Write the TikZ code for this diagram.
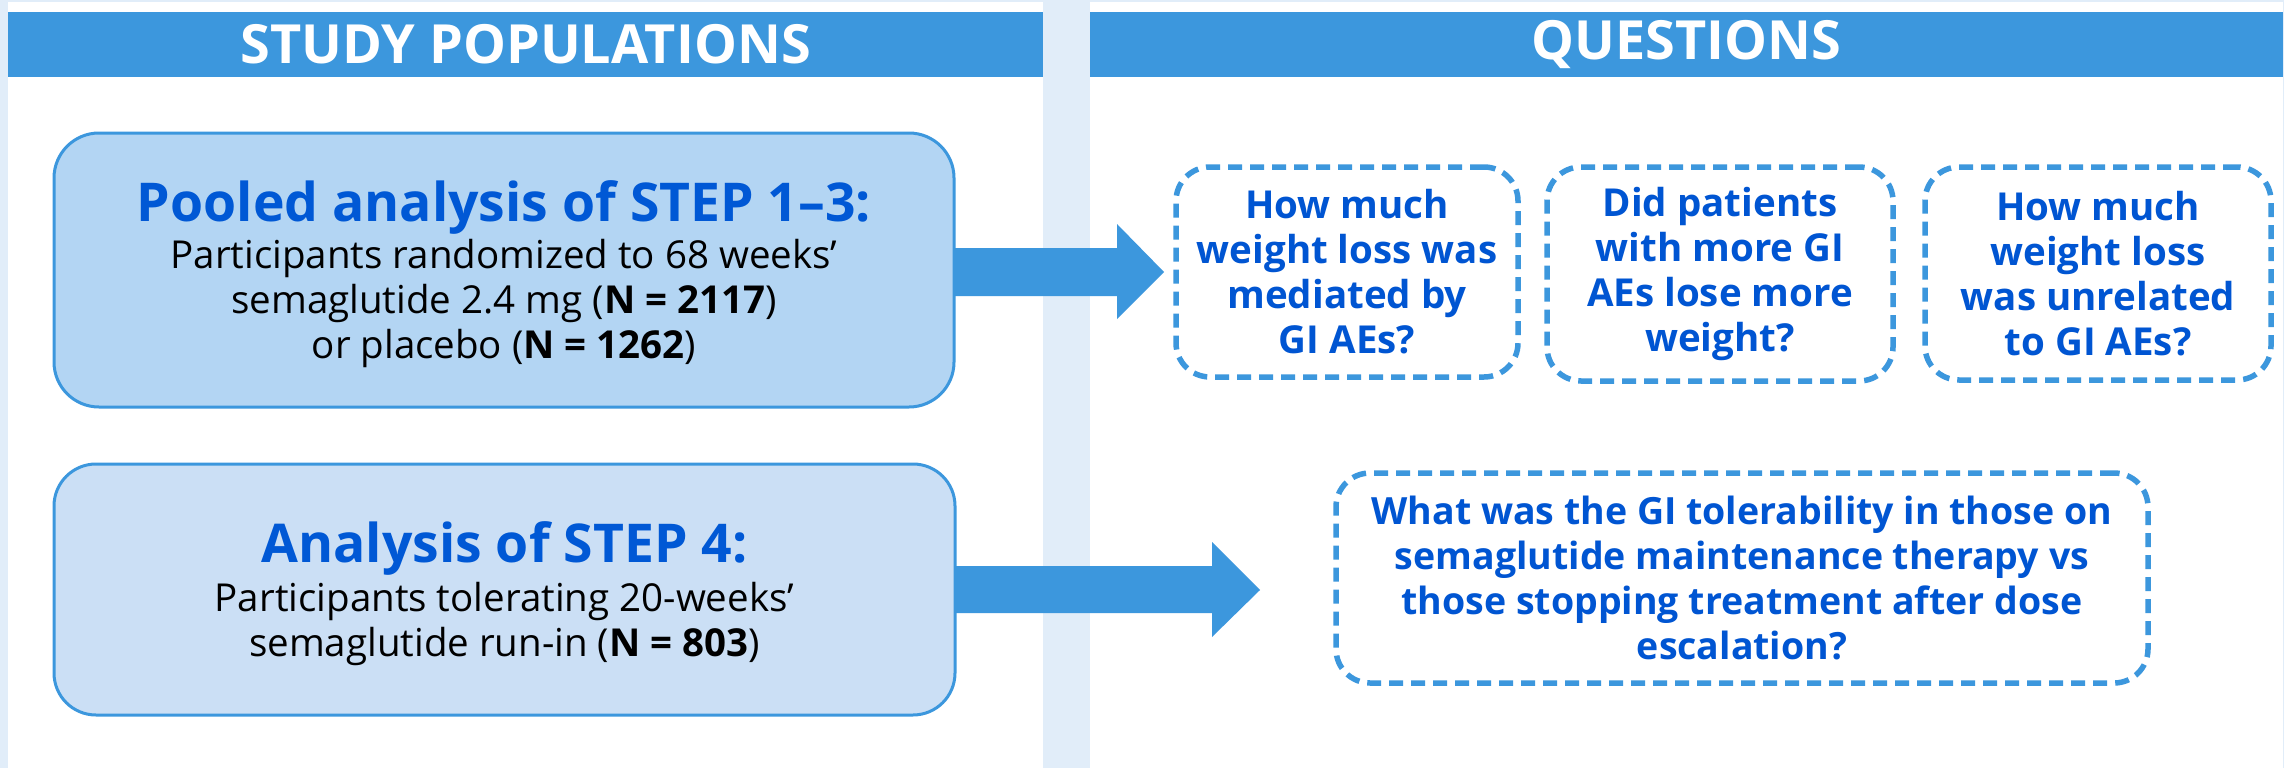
\documentclass[tikz,border=0pt]{standalone}
\usepackage{fontspec}
\setmainfont{Open Sans}
\usetikzlibrary{calc}
\definecolor{bgstrip}{HTML}{E1EDF9}
\definecolor{hdr}{HTML}{3C97DD}
\definecolor{boxa}{HTML}{B3D5F3}
\definecolor{boxb}{HTML}{CBDFF5}
\definecolor{titleblue}{HTML}{0058D5}
\definecolor{qblue}{HTML}{0055D2}
\tikzset{
  header/.style={fill=hdr, text=white, inner sep=0pt, outer sep=0pt,
    font=\fontsize{54}{60}\selectfont\bfseries},
  popbox/.style={draw=hdr, line width=3pt, inner sep=0pt, outer sep=0pt},
  poptext/.style={align=center, inner sep=0pt, text=black,
    font=\fontsize{38.5}{45}\selectfont},
  qbox/.style={draw=hdr, line width=5.5pt, dash pattern=on 14pt off 8pt,
    rounded corners=34pt, inner sep=0pt, outer sep=0pt, align=center,
    text=qblue, font=\fontsize{38.5}{45}\selectfont\bfseries},
  qwide/.style={font=\fontsize{37.5}{44.7}\selectfont\bfseries},
  blockarrow/.style={fill=hdr}
}
\newcommand{\ttl}[1]{{\fontsize{53.5}{60}\selectfont\bfseries\color{titleblue}#1}}
\begin{document}
\begin{tikzpicture}[x=1pt,y=-1pt]
\useasboundingbox (0,0) rectangle (2284,768);
\fill[bgstrip] (0,0) rectangle (2284,768);
\fill[white] (8,2) rectangle (1043,768);
\fill[white] (1090,2) rectangle (2283,768);
% headers
\node[header, minimum width=1035pt, minimum height=65pt] (h1) at (525.5,44.5) {STUDY POPULATIONS};
\node[header, minimum width=1193pt, minimum height=65pt] (h2) at (1686.5,44.5) {QUESTIONS};
% population boxes
\node[popbox, fill=boxa, rounded corners=45pt, minimum width=900pt, minimum height=274pt] (b1) at (504,270) {};
\node[poptext] (t1) at (504,274.5) {\ttl{Pooled analysis of STEP 1–3:}\\[2pt]
  Participants randomized to 68 weeks’\\
  semaglutide 2.4 mg (\textbf{N = 2117})\\
  or placebo (\textbf{N = 1262})};
\node[popbox, fill=boxb, rounded corners=42pt, minimum width=901pt, minimum height=251pt] (b2) at (504.5,589.5) {};
\node[poptext] (t2) at (504.5,594) {\ttl{Analysis of STEP 4:}\\[4pt]
  Participants tolerating 20-weeks’\\
  semaglutide run-in (\textbf{N = 803})};
% question boxes
\node[qbox, minimum width=342pt, minimum height=210pt] (q1) at (1347,272) {How much\\weight loss was\\mediated by\\GI AEs?};
\node[qbox, minimum width=346pt, minimum height=214pt] (q2) at (1720,274) {Did patients\\with more GI\\AEs lose more\\weight?};
\node[qbox, minimum width=346pt, minimum height=213pt] (q3) at (2098,273.5) {How much\\weight loss\\was unrelated\\to GI AEs?};
\node[qbox, qwide, minimum width=812pt, minimum height=210pt] (q4) at (1742,578) {What was the GI tolerability in those on\\semaglutide maintenance therapy vs\\those stopping treatment after dose\\escalation?};
% arrows
\coordinate (a1tip) at (1164,272);
\coordinate (a2tip) at (1260,590);
\fill[blockarrow] (b1.east |- 0,248) -- (1117,248) -- (1117,224) -- (a1tip)
  -- (1117,319) -- (1117,296) -- (b1.east |- 0,296) -- cycle;
\fill[blockarrow] (b2.east |- 0,566) -- (1212,566) -- (1212,542) -- (a2tip)
  -- (1212,637) -- (1212,613) -- (b2.east |- 0,613) -- cycle;
\end{tikzpicture}
\end{document}
